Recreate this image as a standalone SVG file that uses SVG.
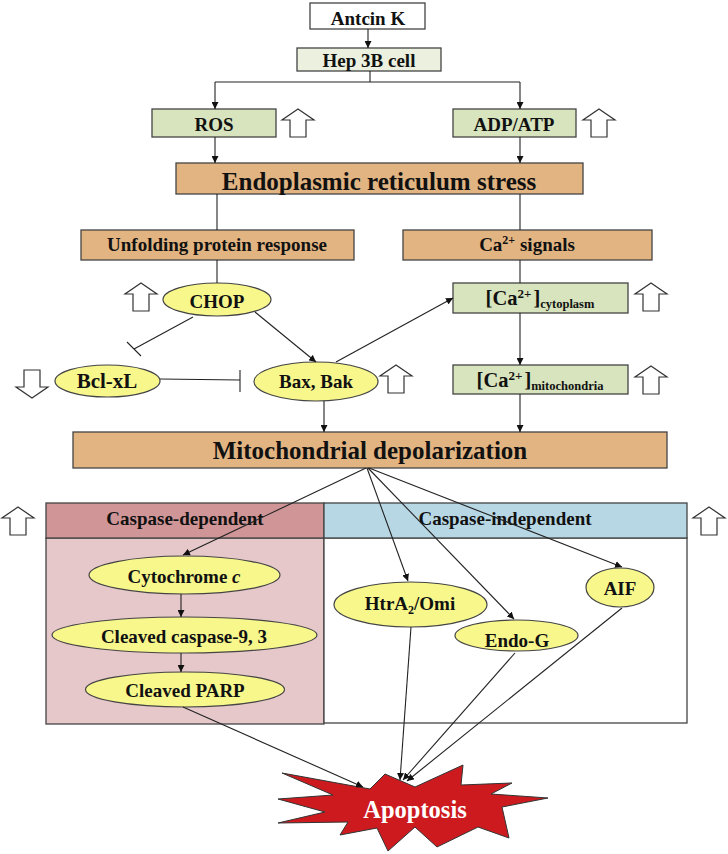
<svg xmlns="http://www.w3.org/2000/svg" xmlns:xlink="http://www.w3.org/1999/xlink" width="728" height="854" viewBox="0 0 728 854">
<defs>
<style>
text{font-family:"Liberation Serif","Times New Roman",serif;font-weight:bold;fill:#111;text-anchor:middle}
.box{stroke:#444;stroke-width:1.3}
.green{fill:#d7e4bd}
.lgreen{fill:#ebf1de}
.orange{fill:#e2b482}
.white{fill:#fff}
.ell{fill:#f7f78c;stroke:#444;stroke-width:1.2}
.ln{fill:none;stroke:#222;stroke-width:1.1}
.ar{fill:none;stroke:#222;stroke-width:1.1;marker-end:url(#ah)}
.blk{fill:#fff;stroke:#333;stroke-width:1.2}
.t15{font-size:19px}
.t22{font-size:25px}
</style>
<marker id="ah" viewBox="0 0 10 10" refX="10" refY="5" markerWidth="7" markerHeight="7" markerUnits="userSpaceOnUse" orient="auto">
<path d="M0,0 L10,5 L0,10 Z" fill="#111"/>
</marker>
<path id="up" d="M16,0 L32,11 L24,11 L24,28 L8,28 L8,11 L0,11 Z"/>
</defs>

<g id="antcin"><rect class="box white" x="310" y="3" width="115" height="26"/><text class="t15" x="368" y="25">Antcin K</text></g>
<g id="hep3b"><rect class="box lgreen" x="297" y="48" width="144" height="23"/><text class="t15" x="369" y="66.5">Hep 3B cell</text></g>
<g id="ros"><rect class="box green" x="152" y="109" width="124" height="28"/><text class="t15" x="214" y="131">ROS</text></g>
<g id="adpatp"><rect class="box green" x="453" y="109" width="123" height="28"/><text class="t15" x="514" y="131">ADP/ATP</text></g>
<g id="er"><rect class="box orange" x="176" y="163" width="407" height="31"/><text class="t22" x="379" y="190">Endoplasmic reticulum stress</text></g>
<g id="upr"><rect class="box orange" x="81" y="230" width="273" height="30"/><text class="t15" x="217" y="251">Unfolding protein response</text></g>
<g id="casig"><rect class="box orange" x="403" y="230" width="249" height="30"/><text class="t15" x="527" y="251">Ca<tspan font-size="12" dy="-7">2+</tspan><tspan dy="7"> signals</tspan></text></g>
<g id="chop"><ellipse class="ell" cx="217" cy="299.5" rx="54" ry="16.5"/><text class="t15" x="217" y="308">CHOP</text></g>
<g id="cacyto"><rect class="box green" x="453" y="283" width="175" height="30"/><text x="540" y="305"><tspan font-size="20.5">[Ca</tspan><tspan font-size="13" dy="-7">2+</tspan><tspan font-size="20.5" dy="7" dx="2">]</tspan><tspan font-size="12.5" dy="3">cytoplasm</tspan></text></g>
<g id="bclxl"><ellipse class="ell" cx="107.5" cy="381" rx="52.5" ry="16"/><text x="107" y="387.5" font-size="21">Bcl-xL</text></g>
<g id="baxbak"><ellipse class="ell" cx="316" cy="381.5" rx="62" ry="19.5"/><text class="t15" x="316" y="388">Bax, Bak</text></g>
<g id="camito"><rect class="box green" x="453" y="365" width="175" height="29"/><text x="540" y="387"><tspan font-size="20.5">[Ca</tspan><tspan font-size="13" dy="-7">2+</tspan><tspan font-size="20.5" dy="7" dx="2">]</tspan><tspan font-size="12.5" dy="3">mitochondria</tspan></text></g>
<g id="mito"><rect class="box orange" x="73" y="432" width="594" height="36"/><text class="t22" x="370" y="459">Mitochondrial depolarization</text></g>

<g id="caspdep">
<rect x="46" y="538" width="278" height="186" fill="#e6c8ca" stroke="#444" stroke-width="1.3"/>
<rect x="46" y="503" width="278" height="35" fill="#d09597" stroke="#444" stroke-width="1.3"/>
<text class="t15" x="185" y="525">Caspase-dependent</text>
</g>
<g id="caspindep">
<rect x="324" y="538" width="363" height="185" fill="#fff" stroke="#444" stroke-width="1.3"/>
<rect x="324" y="503" width="363" height="35" fill="#b7d7e5" stroke="#444" stroke-width="1.3"/>
<text class="t15" x="505" y="525">Caspase-independent</text>
</g>

<g id="arrows-ind">
<use href="#up" class="blk" transform="translate(282,109)"/>
<use href="#up" class="blk" transform="translate(583,109)"/>
<use href="#up" class="blk" transform="translate(125,283)"/>
<use href="#up" class="blk" transform="translate(635,283)"/>
<use href="#up" class="blk" transform="translate(48,398) rotate(180)"/>
<use href="#up" class="blk" transform="translate(380,365)"/>
<use href="#up" class="blk" transform="translate(635,366)"/>
<use href="#up" class="blk" transform="translate(2,507)"/>
<use href="#up" class="blk" transform="translate(693,507)"/>
</g>

<g id="cytc"><ellipse class="ell" cx="184.5" cy="575" rx="95.5" ry="19"/><text class="t15" x="184" y="583">Cytochrome <tspan font-style="italic">c</tspan></text></g>
<g id="casp93"><ellipse class="ell" cx="184.5" cy="635" rx="132.5" ry="18"/><text class="t15" x="184" y="643">Cleaved caspase-9, 3</text></g>
<g id="parp"><ellipse class="ell" cx="185" cy="689.5" rx="99.5" ry="17.5"/><text class="t15" x="185" y="697">Cleaved PARP</text></g>
<g id="htra2"><ellipse class="ell" cx="410.5" cy="604.5" rx="76.5" ry="22.5"/><text class="t15" x="410" y="610">HtrA<tspan font-size="12" dy="4">2</tspan><tspan dy="-4">/Omi</tspan></text></g>
<g id="endog"><ellipse class="ell" cx="516.5" cy="635.5" rx="61.5" ry="15.5"/><text class="t15" x="517" y="646.5">Endo-G</text></g>
<g id="aif"><ellipse class="ell" cx="620" cy="587.5" rx="34" ry="19.5"/><text class="t15" x="620" y="595">AIF</text></g>

<g id="apoptosis">
<polygon points="282,773 370,789 385,774 415,787 463,765 461,785 512,783 491,794 548,798 502,807 509,838 478,827 437,847 415,827 388,851 377,828 340,835 348,822 278,823 325,812 278,799 333,795" fill="#cc1a1f" stroke="#333" stroke-width="1"/>
<text x="415" y="818" font-size="24.5" style="fill:#fff">Apoptosis</text>
</g>

<g id="connectors">
<line class="ar" x1="368" y1="29" x2="368" y2="48"/>
<polyline class="ln" points="370,71 370,82"/>
<polyline class="ln" points="215,82 520,82"/>
<line class="ar" x1="215" y1="82" x2="215" y2="109"/>
<line class="ar" x1="520" y1="82" x2="520" y2="109"/>
<line class="ar" x1="215" y1="137" x2="215" y2="163"/>
<line class="ar" x1="520" y1="137" x2="520" y2="163"/>
<line class="ln" x1="217" y1="194" x2="217" y2="230"/>
<line class="ln" x1="520" y1="194" x2="520" y2="230"/>
<line class="ln" x1="217" y1="260" x2="217" y2="283"/>
<line class="ln" x1="520" y1="260" x2="520" y2="283"/>
<line class="ar" x1="520" y1="313" x2="520" y2="365"/>
<line class="ln" x1="193" y1="317" x2="134" y2="349"/>
<line class="ln" x1="127" y1="342" x2="141" y2="356"/>
<line class="ar" x1="255" y1="312" x2="316" y2="362"/>
<line class="ar" x1="336" y1="362" x2="453" y2="298"/>
<line class="ln" x1="160" y1="379" x2="240" y2="380"/>
<line class="ln" x1="240" y1="370" x2="240" y2="392"/>
<line class="ar" x1="324" y1="401" x2="324" y2="432"/>
<line class="ar" x1="520" y1="394" x2="520" y2="432"/>
<line class="ar" x1="366" y1="468" x2="183" y2="555"/>
<line class="ar" x1="367" y1="468" x2="408" y2="581"/>
<line class="ar" x1="368" y1="468" x2="514" y2="619"/>
<line class="ar" x1="369" y1="468" x2="622" y2="567"/>
<line class="ar" x1="181" y1="594" x2="181" y2="617"/>
<line class="ar" x1="181" y1="653" x2="181" y2="672"/>
<line class="ar" x1="183" y1="707" x2="363" y2="787"/>
<line class="ar" x1="411" y1="627" x2="400" y2="780"/>
<line class="ar" x1="515" y1="653" x2="403" y2="780"/>
<line class="ar" x1="622" y1="608" x2="407" y2="781"/>
</g>
</svg>
